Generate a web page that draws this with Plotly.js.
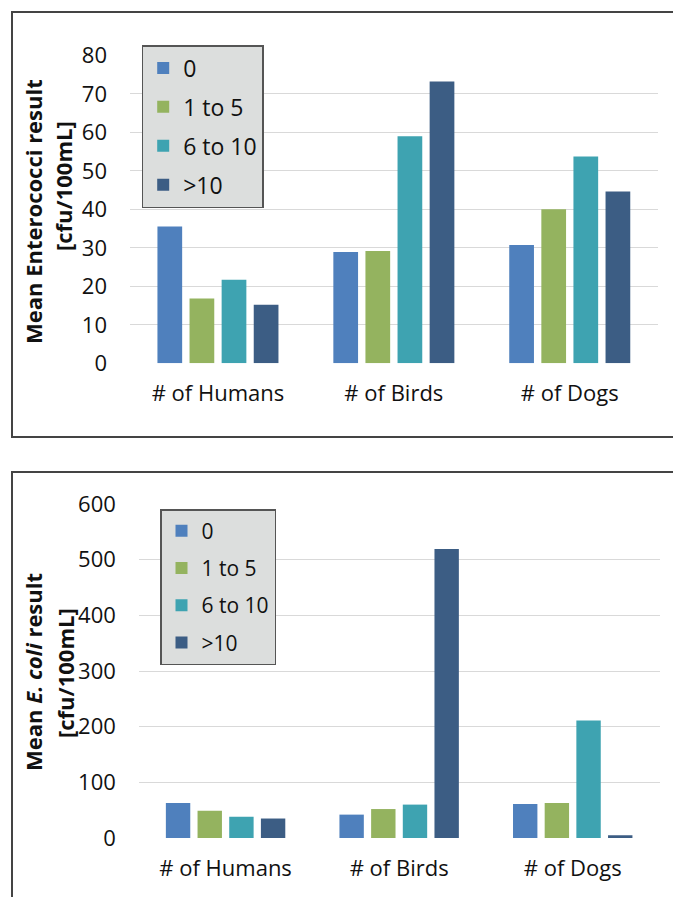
<!DOCTYPE html>
<html>
<head>
<meta charset="utf-8">
<script src="https://cdn.plot.ly/plotly-3.0.1.min.js"></script>
<style>html,body{margin:0;padding:0;background:#fff;}#chart{width:673px;height:897px;}</style>
</head>
<body>
<div id="chart"></div>
<script>
// Categories and series labels
const categories = ["# of Humans", "# of Birds", "# of Dogs"];
const seriesNames = ["0", "1 to 5", "6 to 10", ">10"];
const seriesColors = ["#4f80bd", "#94b35f", "#3ea3b1", "#3c5d84"];

// Mean Enterococci result [cfu/100mL] (top chart), per series
const entero0 = [35.5, 28.9, 30.7];
const entero1to5 = [16.8, 29.2, 40.0];
const entero6to10 = [21.7, 59.0, 53.7];
const enteroOver10 = [15.2, 73.2, 44.6];

// Mean E. coli result [cfu/100mL] (bottom chart), per series
const ecoli0 = [63, 42, 61];
const ecoli1to5 = [49, 52, 63];
const ecoli6to10 = [38, 60, 211];
const ecoliOver10 = [35, 519, 5];

const enteroSeries = [entero0, entero1to5, entero6to10, enteroOver10];
const ecoliSeries = [ecoli0, ecoli1to5, ecoli6to10, ecoliOver10];

const FONT = "Open Sans, Arial, sans-serif";
const W = 673, H = 897;
const px = v => v / W;
const py = v => (H - v) / H;

const traces = [];
seriesNames.forEach((name, i) => {
  traces.push({
    type: "bar", name: name, x: categories, y: enteroSeries[i],
    xaxis: "x", yaxis: "y", legend: "legend", legendgroup: "t" + i,
    marker: {color: seriesColors[i], line: {width: 0}}
  });
});
seriesNames.forEach((name, i) => {
  traces.push({
    type: "bar", name: name, x: categories, y: ecoliSeries[i],
    xaxis: "x2", yaxis: "y2", legend: "legend2", legendgroup: "b" + i,
    marker: {color: seriesColors[i], line: {width: 0}}
  });
});

const tickFont = {family: FONT, size: 22, color: "#111"};
const catFont = {family: FONT, size: 22, color: "#111"};
const gridColor = "#d9d9d9";

const layout = {
  width: W, height: H,
  margin: {l: 0, r: 0, t: 0, b: 0},
  paper_bgcolor: "#ffffff", plot_bgcolor: "rgba(0,0,0,0)",
  barmode: "group", bargap: 0.27, bargroupgap: 0.23,
  font: {family: FONT, color: "#111"},
  xaxis: {
    domain: [px(130), px(657.7)], anchor: "y", type: "category",
    showline: false, showgrid: false, zeroline: false, ticks: "",
    tickfont: catFont, ticklabelstandoff: 15, automargin: false
  },
  yaxis: {
    domain: [py(363.3), py(55.3)], anchor: "x", range: [0, 80], dtick: 10,
    showline: false, zeroline: false, showgrid: true, gridcolor: gridColor, gridwidth: 1,
    ticks: "", tickfont: tickFont, ticklabelstandoff: 22, automargin: false
  },
  xaxis2: {
    domain: [px(138.8), px(659.5)], anchor: "y2", type: "category",
    showline: false, showgrid: false, zeroline: false, ticks: "",
    tickfont: catFont, ticklabelstandoff: 15, automargin: false
  },
  yaxis2: {
    domain: [py(838), py(504)], anchor: "x2", range: [0, 600], dtick: 100,
    showline: false, zeroline: false, showgrid: true, gridcolor: gridColor, gridwidth: 1,
    ticks: "", tickfont: tickFont, ticklabelstandoff: 22, automargin: false
  },
  legend: {
    x: px(141.7), y: py(45), xanchor: "left", yanchor: "top",
    bgcolor: "#dcdedd", bordercolor: "#555", borderwidth: 1.5,
    font: {family: FONT, size: 23, color: "#111"},
    traceorder: "grouped", tracegroupgap: 6
  },
  legend2: {
    x: px(160), y: py(509), xanchor: "left", yanchor: "top",
    bgcolor: "#dcdedd", bordercolor: "#555", borderwidth: 1.5,
    font: {family: FONT, size: 21, color: "#111"},
    traceorder: "grouped", tracegroupgap: 7
  },
  shapes: [
    {type: "rect", xref: "paper", yref: "paper", x0: px(12), x1: 1.05, y0: py(437), y1: py(12),
     line: {color: "#444", width: 2}, fillcolor: "rgba(0,0,0,0)", layer: "below"},
    {type: "rect", xref: "paper", yref: "paper", x0: px(12), x1: 1.05, y0: -0.05, y1: py(472),
     line: {color: "#444", width: 2}, fillcolor: "rgba(0,0,0,0)", layer: "below"}
  ],
  annotations: [
    {text: "<b>Mean Enterococci result</b>", xref: "paper", yref: "paper", x: px(33), y: py(212),
     xanchor: "center", yanchor: "middle", textangle: -90, showarrow: false,
     font: {family: FONT, size: 22, color: "#111"}},
    {text: "<b>[cfu/100mL]</b>", xref: "paper", yref: "paper", x: px(63), y: py(186),
     xanchor: "center", yanchor: "middle", textangle: -90, showarrow: false,
     font: {family: FONT, size: 22, color: "#111"}},
    {text: "<b>Mean <i>E. coli</i> result</b>", xref: "paper", yref: "paper", x: px(33), y: py(672),
     xanchor: "center", yanchor: "middle", textangle: -90, showarrow: false,
     font: {family: FONT, size: 22, color: "#111"}},
    {text: "<b>[cfu/100mL]</b>", xref: "paper", yref: "paper", x: px(65), y: py(673),
     xanchor: "center", yanchor: "middle", textangle: -90, showarrow: false,
     font: {family: FONT, size: 22, color: "#111"}}
  ]
};

Plotly.newPlot("chart", traces, layout, {displayModeBar: false, staticPlot: true});
</script>
</body>
</html>
